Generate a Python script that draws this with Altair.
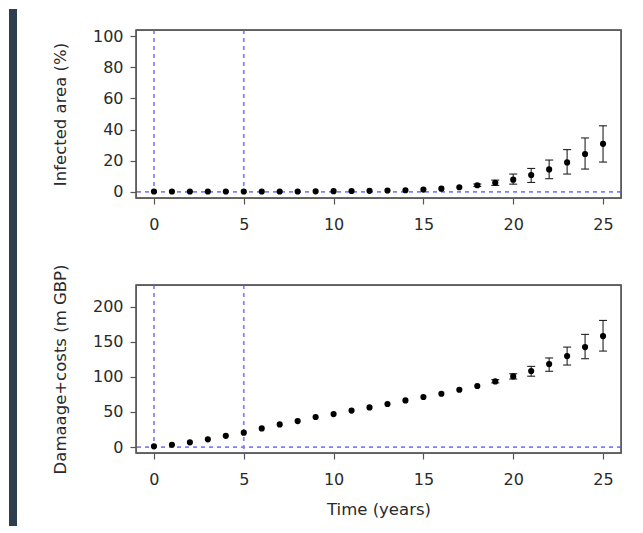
import altair as alt
import pandas as pd

years = list(range(26))
infected_mean = [0.2, 0.2, 0.2, 0.2, 0.2, 0.2, 0.2, 0.2, 0.2, 0.3, 0.4, 0.5, 0.6, 0.8, 1.0,
                 1.4, 2.0, 2.9, 4.2, 5.8, 7.8, 10.8, 14.4, 18.9, 24.3, 30.8]
infected_lo = [0.2, 0.2, 0.2, 0.2, 0.2, 0.2, 0.2, 0.2, 0.2, 0.3, 0.4, 0.5, 0.6, 0.8, 1.0,
               1.4, 2.0, 2.9, 3.4, 4.1, 4.9, 6.0, 8.4, 11.4, 14.6, 19.1]
infected_hi = [0.2, 0.2, 0.2, 0.2, 0.2, 0.2, 0.2, 0.2, 0.2, 0.3, 0.4, 0.5, 0.6, 0.8, 1.0,
               1.4, 2.0, 2.9, 5.0, 7.5, 11.4, 15.0, 20.4, 27.1, 34.6, 42.4]
damage_mean = [1.0, 3.3, 6.7, 11.0, 16.0, 20.5, 26.6, 32.3, 37.0, 42.8, 47.0, 52.0, 56.5,
               61.3, 66.5, 71.3, 76.0, 81.7, 87.0, 93.6, 100.7, 108.4, 118.3, 129.7, 142.5, 158.2]
damage_lo = [1.0, 3.3, 6.7, 11.0, 16.0, 20.5, 26.6, 32.3, 37.0, 42.8, 47.0, 52.0, 56.5,
             61.3, 66.5, 71.3, 76.0, 81.7, 87.0, 91.5, 97.0, 101.0, 108.0, 116.9, 125.9, 136.8]
damage_hi = [1.0, 3.3, 6.7, 11.0, 16.0, 20.5, 26.6, 32.3, 37.0, 42.8, 47.0, 52.0, 56.5,
             61.3, 66.5, 71.3, 76.0, 81.7, 87.0, 96.0, 104.5, 115.0, 127.0, 142.5, 160.6, 180.5]

x_ticks = [0, 5, 10, 15, 20, 25]
infected_ticks = [0, 20, 40, 60, 80, 100]
damage_ticks = [0, 50, 100, 150, 200]
vline_years = [0, 5]
hline_values = [0]

W, H = 485, 168
GAP = 87
DASH_COLOR = "#8080ff"
FRAME = "#555555"
TEXT = "#2a2a2a"
BG = "#2c3e50"


def panel(mean, lo, hi, ydomain, yticks, ytitle, xtitle, strip=False):
    df = pd.DataFrame({"year": years, "mean": mean, "lo": lo, "hi": hi})
    err = df[(df["hi"] - df["lo"]) > 0.05]
    xscale = alt.Scale(domain=[-1, 26], nice=False, zero=False)
    yscale = alt.Scale(domain=ydomain, nice=False, zero=False)
    if xtitle:
        xaxis = alt.Axis(values=x_ticks, title=xtitle, labelOverlap=False)
    else:
        xaxis = alt.Axis(values=x_ticks, title=None, labelOverlap=False)
    yaxis = alt.Axis(values=yticks, title=ytitle, labelOverlap=False)
    X = alt.X("year:Q", scale=xscale, axis=xaxis)

    def Yf(field):
        return alt.Y(field + ":Q", scale=yscale, axis=yaxis)

    layers = []
    one = pd.DataFrame({"a": [0]})
    if strip:
        layers.append(
            alt.Chart(one).mark_rect(fill=BG, strokeWidth=0).encode(
                x=alt.value(-127), x2=alt.value(-119),
                y=alt.value(-(21 + H + GAP)), y2=alt.value(496 - H - GAP))
        )
    layers.append(
        alt.Chart(pd.DataFrame({"year": vline_years})).mark_rule(
            color=DASH_COLOR, strokeDash=[4, 4], strokeWidth=1.7).encode(x=X)
    )
    layers.append(
        alt.Chart(pd.DataFrame({"mean": hline_values})).mark_rule(
            color=DASH_COLOR, strokeDash=[4, 4], strokeWidth=1.7).encode(y=Yf("mean"))
    )
    layers.append(
        alt.Chart(err).mark_rule(color="#222222", strokeWidth=1.1).encode(
            x=X, y=Yf("lo"), y2="hi:Q")
    )
    layers.append(
        alt.Chart(err).mark_rule(color="#222222", strokeWidth=1.1, xOffset=-4, x2Offset=4).encode(
            x=X, x2="year:Q", y=Yf("hi"))
    )
    layers.append(
        alt.Chart(err).mark_rule(color="#222222", strokeWidth=1.1, xOffset=-4, x2Offset=4).encode(
            x=X, x2="year:Q", y=Yf("lo"))
    )
    layers.append(
        alt.Chart(df).mark_circle(color="black", size=38, opacity=1).encode(x=X, y=Yf("mean"))
    )
    layers.append(
        alt.Chart(one).mark_rect(fillOpacity=0, stroke=FRAME, strokeWidth=1.3).encode(
            x=alt.value(0), x2=alt.value(W), y=alt.value(0), y2=alt.value(H))
    )
    return alt.layer(*layers).properties(width=W, height=H)


top = panel(infected_mean, infected_lo, infected_hi, [-4, 104], infected_ticks,
            "Infected area (%)", None)
bottom = panel(damage_mean, damage_lo, damage_hi, [-8.5, 231], damage_ticks,
               "Damaage+costs (m GBP)", "Time (years)", strip=True)

chart = alt.vconcat(top, bottom, spacing=GAP, bounds="flush").properties(
    padding={"left": 0, "top": 0, "right": 0, "bottom": 0},
    background="white",
).configure_view(stroke=FRAME, strokeWidth=1.3).configure_axis(
    labelFont="DejaVu Sans", labelFontSize=16, labelColor=TEXT,
    titleFont="DejaVu Sans", titleFontSize=16.5, titleColor=TEXT, titleFontWeight="normal",
    tickColor=FRAME, tickSize=6, tickWidth=1.2, domain=False, grid=False, zindex=1,
).configure_axisY(titlePadding=24, labelPadding=7).configure_axisX(titlePadding=14, labelPadding=12)

chart.save("out.html", embed_options={"renderer": "svg", "actions": False})
